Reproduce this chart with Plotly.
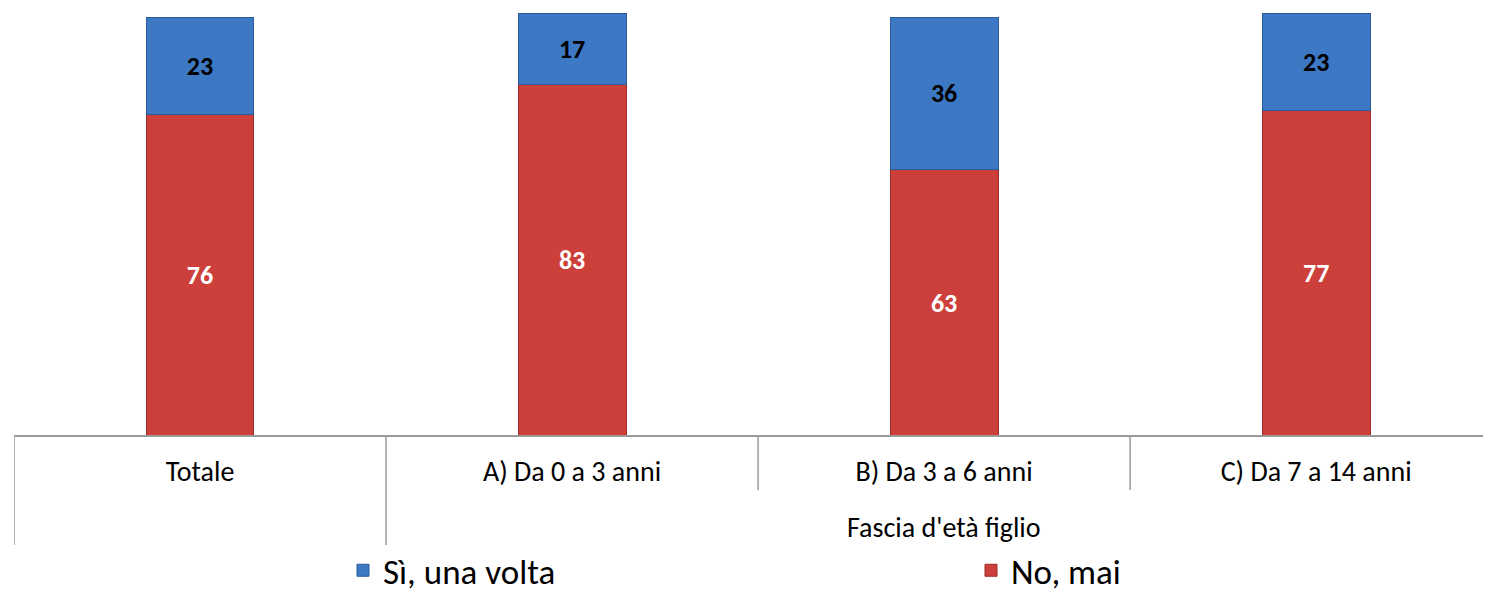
import plotly.graph_objects as go

categories = ["Totale", "A) Da 0 a 3 anni", "B) Da 3 a 6 anni", "C) Da 7 a 14 anni"]
no_mai = [76, 83, 63, 77]
si_una_volta = [23, 17, 36, 23]
group_label = "Fascia d'età figlio"

FONT = "Calibri, Carlito, Lato, 'Open Sans', sans-serif"
x_idx = list(range(len(categories)))

# page has an 8px body margin; size the figure to fit the viewport
OFF = 8
W, H = 1491 - OFF, 597 - OFF
ML, MR, MT = 14 - OFF, 0, 13 - OFF
PH = 423
MB = H - MT - PH
PW = W - ML - MR
AXIS_Y = 436  # page px of the category axis line

fig = go.Figure()
fig.add_trace(go.Bar(
    x=x_idx, y=no_mai, name="No, mai", legend="legend2",
    marker=dict(color="#CD3F3A", line=dict(color="#9E2A26", width=1)),
    width=0.29, text=no_mai, textposition="inside", insidetextanchor="middle",
    textfont=dict(color="white", size=26, family=FONT, weight="bold"),
    textangle=0,
))
fig.add_trace(go.Bar(
    x=x_idx, y=si_una_volta, name="Sì, una volta", legend="legend",
    marker=dict(color="#3C78C4", line=dict(color="#2A5A99", width=1)),
    width=0.29, text=si_una_volta, textposition="inside", insidetextanchor="middle",
    textfont=dict(color="black", size=26, family=FONT, weight="bold"),
    textangle=0,
))

line_col = "#9A9A9A"
shapes = [dict(type="line", xref="paper", yref="paper", x0=0, x1=1, y0=0, y1=0,
               line=dict(color=line_col, width=2))]
for xv, depth in [(-0.5, -109 / PH), (0.5, -109 / PH), (1.5, -54 / PH), (2.5, -54 / PH)]:
    shapes.append(dict(type="line", xref="x", yref="paper", x0=xv, x1=xv, y0=0, y1=depth,
                       line=dict(color=line_col, width=1.5)))

annotations = [dict(x=2, y=-(527 - AXIS_Y) / PH, xref="x", yref="paper", text=group_label,
                    showarrow=False, font=dict(size=28, family=FONT, color="black"),
                    yanchor="middle")]

legend_common = dict(orientation="h", yanchor="bottom", y=-(MB + 3) / PH, xanchor="left",
                     font=dict(size=35, family=FONT, color="black"), bgcolor="rgba(0,0,0,0)")

fig.update_layout(
    barmode="stack",
    width=W, height=H,
    margin=dict(l=ML, r=MR, t=MT, b=MB, autoexpand=False),
    paper_bgcolor="white", plot_bgcolor="white",
    showlegend=True,
    legend=dict(x=(343 - 14) / PW, **legend_common),
    legend2=dict(x=(971 - 14) / PW, **legend_common),
    xaxis=dict(range=[-0.5, 3.47], tickmode="array", tickvals=x_idx, ticktext=categories,
               showgrid=False, zeroline=False, showline=False, ticks="",
               tickfont=dict(size=28, family=FONT, color="black"), ticklabelstandoff=16),
    yaxis=dict(range=[0, 100], visible=False),
    shapes=shapes, annotations=annotations,
)

fig.write_html("out.html")
